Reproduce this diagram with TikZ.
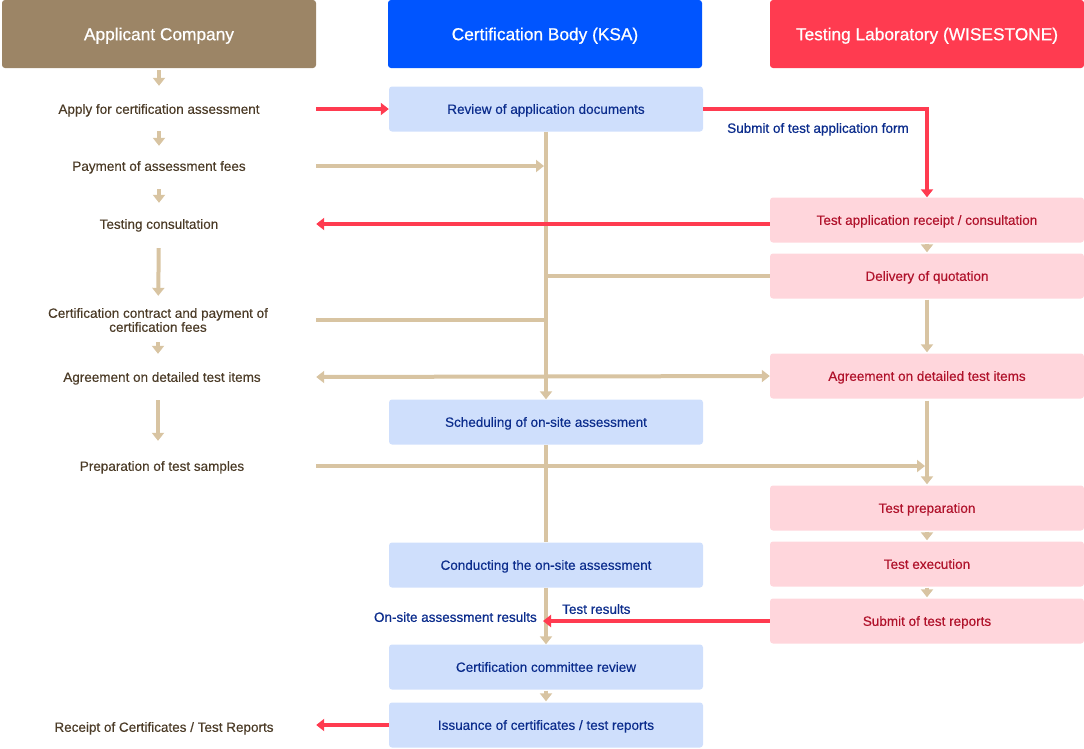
\documentclass[tikz,border=0pt]{standalone}
\usepackage{fontspec}
\setmainfont{Liberation Sans}
\newfontfamily\medfont{Liberation Sans}[FakeBold=0.3]
\newfontfamily\semifont{Liberation Sans}[FakeBold=0.7]
\usetikzlibrary{arrows.meta,positioning}

\definecolor{appbrown}{HTML}{9C8566}
\definecolor{ksablue}{HTML}{0055FF}
\definecolor{labred}{HTML}{FF3B50}
\definecolor{flowtan}{HTML}{D8C4A2}
\definecolor{ksafill}{HTML}{CFDFFC}
\definecolor{ksatext}{HTML}{0B2C8C}
\definecolor{labfill}{HTML}{FFD6DC}
\definecolor{labtext}{HTML}{B0122B}
\definecolor{apptext}{HTML}{4B3B27}

\newcommand{\stepfont}{\medfont\fontsize{13.5}{14}\selectfont}

\begin{document}
\begin{tikzpicture}[x=1pt, y=-1pt,
  header/.style={minimum width=314pt, minimum height=68pt, rounded corners=3pt,
    inner sep=0pt, text height=12.4pt, text depth=0pt, text=white,
    font=\semifont\fontsize{17.3}{20}\selectfont},
  ksabox/.style={fill=ksafill, text=ksatext, minimum width=314pt, minimum height=45pt,
    rounded corners=3pt, inner sep=0pt, text height=9.7pt, text depth=0pt, font=\stepfont},
  labbox/.style={fill=labfill, text=labtext, minimum width=314pt, minimum height=45pt,
    rounded corners=3pt, inner sep=0pt, text height=9.7pt, text depth=0pt, font=\stepfont},
  appstep/.style={text=apptext, minimum width=314pt, minimum height=20pt, inner sep=0pt,
    text height=9.7pt, text depth=0pt, align=center, font=\stepfont},
  note/.style={text=ksatext, inner sep=0pt, text height=9.7pt, text depth=0pt,
    font=\semifont\fontsize{13.5}{14}\selectfont},
  tanline/.style={draw=flowtan, line width=4pt},
  tanarrow/.style={tanline, -{Triangle[length=8pt,width=12pt]}},
  redarrow/.style={draw=labred, line width=4pt, -{Triangle[length=8pt,width=12pt]}}
]
\useasboundingbox (0,0) rectangle (1084,748);

%--- Column headers ---
\node[header, fill=appbrown] (appHead) at (159,34) {Applicant Company};
\node[header, fill=ksablue]  (ksaHead) at (545,34) {Certification Body (KSA)};
\node[header, fill=labred]   (labHead) at (927,34) {Testing Laboratory (WISESTONE)};

%--- Applicant company steps ---
\node[appstep] (apply)    at (159,109) {Apply for certification assessment};
\node[appstep] (pay)      at (159,166) {Payment of assessment fees};
\node[appstep] (consult)  at (159,224) {Testing consultation};
\node[appstep, minimum height=30pt, text height=, text depth=] (contract) at (158,320)
  {Certification contract and payment of\\certification fees};
\node[appstep] (agreeA)   at (162,377) {Agreement on detailed test items};
\node[appstep] (samples)  at (162,466) {Preparation of test samples};
\node[appstep] (receipt)  at (164,727) {Receipt of Certificates / Test Reports};

%--- Certification body steps ---
\node[ksabox] (review)    at (546,109) {Review of application documents};
\node[ksabox] (sched)     at (546,422) {Scheduling of on-site assessment};
\node[ksabox] (conduct)   at (546,565) {Conducting the on-site assessment};
\node[ksabox] (committee) at (546,667) {Certification committee review};
\node[ksabox] (issue)     at (546,725) {Issuance of certificates / test reports};

%--- Testing laboratory steps ---
\node[labbox] (labReceipt) at (927,220) {Test application receipt / consultation};
\node[labbox] (quote)      at (927,276) {Delivery of quotation};
\node[labbox] (agreeL)     at (927,376) {Agreement on detailed test items};
\node[labbox] (prep)       at (927,508) {Test preparation};
\node[labbox] (exec)       at (927,564) {Test execution};
\node[labbox] (submit)     at (927,621) {Submit of test reports};

% Labels on connectors
\node[note, anchor=west] (formNote)   at (727,128) {Submit of test application form};
\node[note, anchor=west] (resultNote) at (562,609) {Test results};
\node[note, anchor=east] (siteNote)   at (537,617) {On-site assessment results};

% Left column flow
\draw[tanarrow, shorten <=2pt, shorten >=13pt] (appHead) -- (apply);
\draw[tanarrow, shorten <=12pt, shorten >=10pt] (apply) -- (pay);
\draw[tanarrow, shorten <=13pt, shorten >=11pt] (pay) -- (consult);
\draw[tanarrow, shorten <=14pt, shorten >=9pt] (consult) -- (contract);
\draw[tanarrow, shorten <=7pt, shorten >=13pt] (contract) -- (contract |- agreeA.north);
\draw[tanarrow, shorten <=13pt, shorten >=15pt] (agreeA.south -| contract) -- (samples.north -| contract);

% Middle column flow
\draw[tanarrow] (review) -- (sched);
\draw[tanline] (sched) -- (conduct);
\draw[tanarrow] (conduct) -- (committee);
\draw[tanarrow, shorten <=1pt, shorten >=1pt] (committee) -- (issue);

% Right column flow
\draw[tanarrow, shorten <=1pt, shorten >=1pt] (labReceipt) -- (quote);
\draw[tanarrow, shorten <=1pt, shorten >=1pt] (quote) -- (agreeL);
\draw[tanarrow, shorten <=2pt, shorten >=1pt] (agreeL) -- (prep);
\draw[tanarrow, shorten <=1pt, shorten >=1pt] (prep) -- (exec);
\draw[tanarrow, shorten <=1pt, shorten >=1pt] (exec) -- (submit);

% Cross connections
\draw[redarrow] (apply.east) -- (review.west);
\draw[tanarrow, shorten >=2pt] (pay.east) -- (pay.east -| review.south);
\draw[redarrow] (review.east) -| (labReceipt.north);
\draw[redarrow] (labReceipt.west |- consult.east) -- (consult.east);
\draw[tanline] (quote.west) -- (quote.west -| review.south);
\draw[tanline] (appHead.east |- contract.east) -- (contract.east -| review.south);
\draw[tanline, {Triangle[length=8pt,width=12pt]}-{Triangle[length=8pt,width=12pt]}]
  (appHead.east |- agreeA.east) -- (agreeL.west);
\draw[tanarrow, shorten >=2pt] (appHead.east |- samples.east) -- (samples.east -| agreeL.south);
\draw[redarrow, shorten >=-3pt] (submit.west) -- (submit.west -| review.south);
\draw[redarrow] (issue.west) -- (issue.west -| appHead.east);
\end{tikzpicture}
\end{document}
